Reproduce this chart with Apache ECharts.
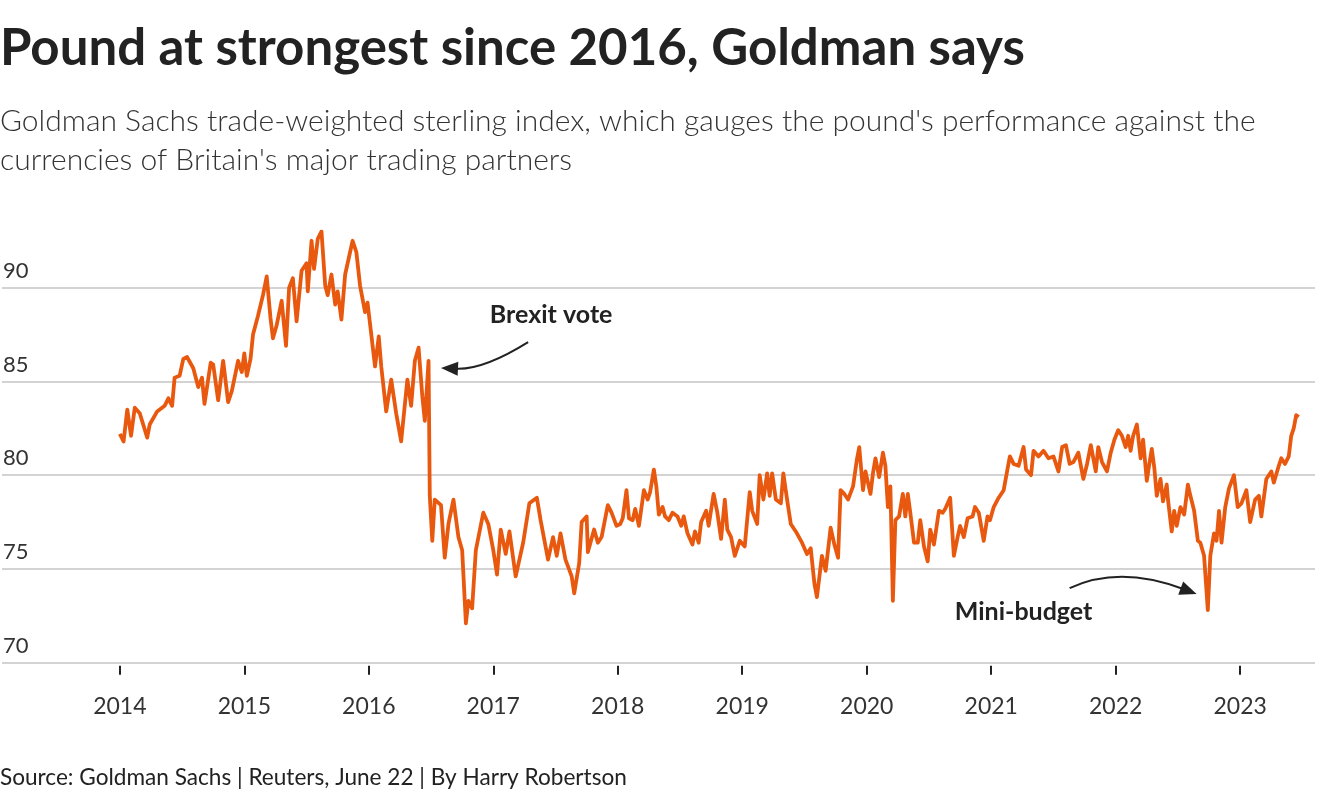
<!DOCTYPE html>
<html><head><meta charset="utf-8">
<script src="https://cdn.jsdelivr.net/npm/echarts@6/dist/echarts.min.js"></script>
<style>html,body{margin:0;padding:0;background:#fff}#c{width:1320px;height:800px}</style>
</head><body><div id="c"></div>
<script>
// Decimal years of each observation
var years = [
2014.00,2014.03,2014.06,2014.09,2014.12,2014.16,2014.22,2014.24,2014.30,2014.36,2014.39,2014.42,2014.44,2014.48,2014.51,2014.54,2014.59,2014.63,2014.66,2014.68,2014.73,2014.75,2014.79,2014.83,2014.87,2014.90,2014.95,2014.98,
2015.00,2015.02,2015.05,2015.07,2015.11,2015.15,2015.18,2015.21,2015.23,2015.26,2015.30,2015.335,2015.36,2015.39,2015.42,2015.46,2015.50,2015.51,2015.54,2015.56,2015.59,2015.62,2015.65,2015.67,2015.70,2015.73,2015.75,2015.78,2015.81,2015.85,2015.87,2015.90,2015.93,2015.97,2015.99,
2016.02,2016.05,2016.08,2016.10,2016.14,2016.18,2016.22,2016.26,2016.31,2016.34,2016.37,2016.40,2016.43,2016.45,2016.48,2016.49,2016.51,2016.53,2016.58,2016.61,2016.64,2016.68,2016.72,2016.75,2016.78,2016.80,2016.83,2016.86,2016.92,2016.96,
2017.00,2017.03,2017.06,2017.10,2017.13,2017.18,2017.24,2017.29,2017.35,2017.38,2017.44,2017.48,2017.51,2017.54,2017.58,2017.63,2017.65,2017.69,2017.71,2017.75,2017.76,2017.81,2017.84,2017.87,2017.92,2017.95,2017.99,
2018.02,2018.04,2018.07,2018.09,2018.12,2018.14,2018.17,2018.21,2018.24,2018.26,2018.29,2018.31,2018.33,2018.36,2018.38,2018.41,2018.44,2018.48,2018.51,2018.53,2018.56,2018.60,2018.62,2018.65,2018.67,2018.71,2018.73,2018.77,2018.80,2018.83,2018.86,2018.88,2018.91,2018.94,2018.98,
2019.02,2019.06,2019.08,2019.12,2019.14,2019.17,2019.20,2019.22,2019.24,2019.27,2019.31,2019.33,2019.36,2019.39,2019.43,2019.48,2019.52,2019.55,2019.58,2019.60,2019.64,2019.67,2019.71,2019.74,2019.77,2019.79,2019.82,2019.85,2019.89,2019.92,2019.94,2019.97,2019.99,
2020.03,2020.05,2020.07,2020.10,2020.13,2020.15,2020.17,2020.19,2020.21,2020.23,2020.26,2020.29,2020.31,2020.33,2020.35,2020.38,2020.41,2020.43,2020.46,2020.49,2020.51,2020.54,2020.58,2020.61,2020.63,2020.67,2020.70,2020.73,2020.75,2020.78,2020.81,2020.85,2020.87,2020.90,2020.94,2020.97,2020.99,
2021.02,2021.06,2021.10,2021.13,2021.15,2021.18,2021.22,2021.26,2021.28,2021.32,2021.34,2021.38,2021.42,2021.46,2021.50,2021.54,2021.57,2021.60,2021.63,2021.66,2021.70,2021.74,2021.77,2021.80,2021.84,2021.86,2021.89,2021.93,2021.96,2021.99,
2022.02,2022.05,2022.08,2022.10,2022.12,2022.14,2022.17,2022.20,2022.22,2022.25,2022.27,2022.29,2022.31,2022.33,2022.36,2022.38,2022.41,2022.42,2022.45,2022.47,2022.49,2022.52,2022.55,2022.58,2022.60,2022.63,2022.66,2022.68,2022.71,2022.74,2022.76,2022.79,2022.81,2022.83,2022.85,2022.88,2022.91,2022.95,2022.98,
2023.01,2023.05,2023.08,2023.12,2023.15,2023.17,2023.21,2023.25,2023.27,2023.31,2023.33,2023.36,2023.39,2023.41,2023.43,2023.45,2023.47
];
// Goldman Sachs trade-weighted sterling index
var values = [
82.2,81.8,83.5,82.1,83.6,83.3,82.0,82.7,83.4,83.7,84.1,83.7,85.2,85.3,86.2,86.3,85.7,84.7,85.2,83.8,86.0,85.9,84.0,86.1,83.9,84.5,86.1,85.5,
86.5,85.3,86.2,87.5,88.5,89.6,90.6,88.4,87.3,88.0,89.3,86.9,90.0,90.5,88.2,90.9,91.3,89.8,92.5,91.0,92.6,93.0,90.1,89.6,90.7,89.1,89.8,88.3,90.7,91.9,92.5,91.9,90.1,88.7,89.2,
87.5,85.8,87.4,85.8,83.4,85.1,83.3,81.8,85.1,83.7,86.1,86.8,84.2,82.9,86.1,78.9,76.5,78.7,78.4,75.6,77.4,78.7,76.7,76.0,72.1,73.3,72.9,76.0,78.0,77.4,
76.0,74.7,77.1,75.8,77.0,74.6,76.4,78.5,78.8,77.6,75.5,76.7,75.7,76.9,75.5,74.6,73.7,75.3,77.5,77.8,75.9,77.1,76.4,76.7,78.4,78.0,77.3,
77.4,77.7,79.2,77.7,77.6,78.2,77.3,79.2,78.7,79.1,80.3,79.4,77.9,78.3,77.8,77.6,78.0,77.8,77.3,77.8,76.9,76.3,77.0,76.4,77.5,78.1,77.3,79.0,78.0,76.6,78.7,77.1,76.7,75.7,76.5,
76.2,79.1,78.1,77.4,80.0,78.7,80.1,78.9,80.1,78.7,78.5,80.1,78.7,77.4,77.0,76.4,75.8,76.1,74.2,73.5,75.7,74.9,77.2,76.3,75.6,79.2,79.0,78.7,79.4,80.8,81.5,79.2,80.2,
79.0,80.1,80.9,79.9,81.2,80.5,78.3,79.4,73.3,77.6,77.8,79.0,77.8,79.0,78.0,76.4,76.4,77.6,76.2,75.4,77.1,76.3,78.1,78.0,78.2,78.8,75.7,76.7,77.3,76.7,77.7,77.8,78.3,78.0,76.5,77.8,77.6,
78.3,78.8,79.2,80.3,81.0,80.6,80.5,81.5,80.3,80.0,81.3,81.0,81.3,80.9,81.0,80.2,81.5,81.6,80.6,80.7,81.2,79.8,80.6,81.6,80.2,81.5,80.7,80.2,81.2,81.9,
82.4,82.1,81.5,82.1,81.3,82.1,82.7,80.9,81.9,79.7,80.6,81.4,80.4,78.9,79.8,78.6,79.5,78.7,77.0,78.1,77.3,78.3,77.9,79.5,78.9,78.1,76.5,76.4,75.7,72.8,75.7,76.9,76.5,78.1,76.4,78.3,79.3,80.0,78.3,
78.5,79.2,77.5,78.7,78.9,77.8,79.8,80.2,79.6,80.5,80.9,80.6,81.0,82.1,82.5,83.2,83.1
];
var yearTicks = [2014,2015,2016,2017,2018,2019,2020,2021,2022,2023];
// annotations in data coordinates [year, value]
var brexitLabel = {text:'Brexit vote', at:[2017.465, 88.54]};
var brexitArrow = {from:[2017.28, 87.10], ctrl:[2016.92, 85.61], to:[2016.58, 85.72]};
var miniLabel = {text:'Mini-budget', at:[2021.26, 72.70]};
var miniArrow = {from:[2021.63, 73.98], ctrl:[2022.03, 75.21], to:[2022.65, 73.66]};

var FONT = 'Lato';
var chart = echarts.init(document.getElementById('c'), null, {renderer:'canvas'});
var pts = years.map(function(y,i){return [y, values[i]];});
var option = {
  backgroundColor:'#fff',
  animation:false,
  grid:{left:0, right:5, top:231.4, bottom:137.3, containLabel:false},
  xAxis:{type:'value', min:2013.0535, max:2023.601,
    axisLine:{show:false},
    axisTick:{show:true, length:9, lineStyle:{color:'#222', width:2}, customValues:yearTicks},
    axisLabel:{show:true, customValues:yearTicks, margin:29, fontFamily:FONT, fontSize:23, color:'#333', formatter:function(v){return String(v);}},
    offset:3,
    splitLine:{show:false}
  },
  yAxis:{type:'value', min:70, max:93, interval:5,
    axisLine:{show:false}, axisTick:{show:false},
    axisLabel:{inside:true, margin:0, showMaxLabel:false, verticalAlign:'bottom', padding:[0,0,6,1], fontFamily:FONT, fontSize:22, color:'#333'},
    splitLine:{show:true, showMaxLine:false, lineStyle:{color:'#c4c4c4', width:1.5}}
  },
  series:[{type:'line', data:pts, showSymbol:false, symbol:'none', lineStyle:{color:'#e8590f', width:3.8, join:'round'}, z:5}]
};
chart.setOption(option);

function px(d){return chart.convertToPixel({gridIndex:0}, d);}
function arrow(a){
  var p0=px(a.from), c=px(a.ctrl), p1=px(a.to);
  var dx=p1[0]-c[0], dy=p1[1]-c[1], L=Math.sqrt(dx*dx+dy*dy); dx/=L; dy/=L;
  var len=17, hw=7;
  var bx=p1[0]-dx*len, by=p1[1]-dy*len;
  return [
    {type:'bezierCurve', shape:{x1:p0[0],y1:p0[1],x2:p1[0]-dx*(len-2),y2:p1[1]-dy*(len-2),cpx1:c[0],cpy1:c[1]}, style:{stroke:'#222', lineWidth:2, fill:null}, z:10},
    {type:'polygon', shape:{points:[[p1[0],p1[1]],[bx-dy*hw,by+dx*hw],[bx+dy*hw,by-dx*hw]]}, style:{fill:'#222'}, z:10}
  ];
}
function label(l){
  var p=px(l.at);
  return {type:'text', x:p[0], y:p[1], style:{text:l.text, fill:'#222', font:'bold 25px '+FONT, align:'center', verticalAlign:'middle'}, z:10};
}
var g = [
  {type:'text', left:0, top:23, style:{text:'Pound at strongest since 2016, Goldman says', fill:'#222', font:'bold 51px '+FONT}},
  {type:'text', left:0, top:102, style:{text:"Goldman Sachs trade-weighted sterling index, which gauges the pound's performance against the\ncurrencies of Britain's major trading partners", fill:'#333', font:'300 30px '+FONT, lineHeight:39}},
  {type:'text', left:0, top:766, style:{text:'Source: Goldman Sachs | Reuters, June 22 | By Harry Robertson', fill:'#222', font:'22.6px '+FONT}},
  label(brexitLabel), label(miniLabel)
].concat(arrow(brexitArrow)).concat(arrow(miniArrow));
chart.setOption({graphic:{elements:g}});
</script></body></html>
